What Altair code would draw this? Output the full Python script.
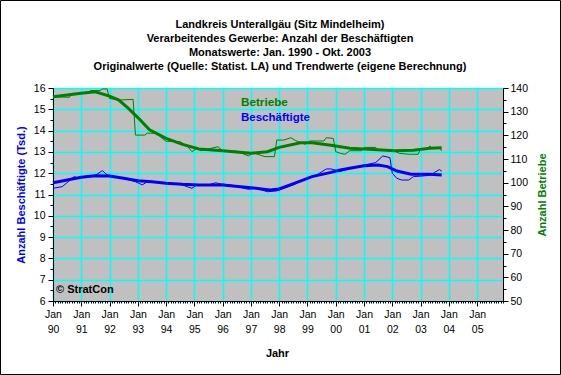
import altair as alt
import pandas as pd

# ---------------- data ----------------
besch_orig_dates = ["1990-01", "1990-05", "1990-10", "1990-12", "1991-03", "1991-07", "1991-10", "1991-12",
                    "1992-05", "1992-09", "1992-12", "1993-03", "1993-05", "1993-08", "1994-01", "1994-07",
                    "1994-12", "1995-02", "1995-06", "1995-10", "1995-12", "1996-05", "1996-12", "1997-03",
                    "1997-08", "1997-12", "1998-07", "1998-12", "1999-05", "1999-09", "1999-11", "2000-03",
                    "2000-07", "2001-01", "2001-06", "2001-09", "2001-12", "2002-01", "2002-03", "2002-05",
                    "2002-08", "2002-10", "2003-01", "2003-05", "2003-07", "2003-09", "2003-10"]
besch_orig_vals = [11.29, 11.37, 11.84, 11.76, 11.86, 11.90, 12.12, 11.92,
                   11.80, 11.70, 11.60, 11.45, 11.60, 11.58, 11.52, 11.48,
                   11.29, 11.45, 11.42, 11.55, 11.50, 11.44, 11.24, 11.30,
                   11.13, 11.17, 11.45, 11.73, 11.92, 12.20, 12.20, 12.08,
                   12.23, 12.38, 12.50, 12.81, 12.73, 12.00, 11.76, 11.68,
                   11.68, 11.84, 11.86, 11.90, 12.04, 12.17, 12.10]

besch_trend_dates = ["1990-01", "1991-01", "1991-07", "1992-01", "1992-07", "1993-01", "1993-07", "1994-01",
                     "1994-08", "1995-03", "1996-01", "1997-01", "1997-09", "1998-01", "1998-08", "1999-03",
                     "1999-11", "2000-03", "2000-07", "2001-01", "2001-07", "2001-11", "2002-03", "2002-09",
                     "2003-05", "2003-10"]
besch_trend_vals = [11.55, 11.81, 11.88, 11.87, 11.76, 11.65, 11.60, 11.53,
                    11.48, 11.45, 11.45, 11.32, 11.21, 11.26, 11.55, 11.84,
                    12.04, 12.15, 12.23, 12.35, 12.38, 12.31, 12.10, 11.95,
                    11.95, 11.92]

betr_orig_dates = ["1990-01", "1990-08", "1990-09", "1991-04", "1991-05", "1991-09", "1991-10", "1991-12",
                   "1992-01", "1992-05", "1992-11", "1992-12", "1993-04", "1993-05", "1993-09", "1993-11",
                   "1994-01", "1994-07", "1994-10", "1994-12", "1995-02", "1995-04", "1995-11", "1996-01",
                   "1996-07", "1996-12", "1997-02", "1997-07", "1997-11", "1997-12", "1998-03", "1998-06",
                   "1998-08", "1998-12", "1999-02", "1999-08", "1999-09", "1999-12", "2000-01", "2000-03",
                   "2000-05", "2000-07", "2000-12", "2001-01", "2001-06", "2001-07", "2002-01", "2002-04",
                   "2002-08", "2002-12", "2003-01", "2003-04", "2003-05", "2003-06", "2003-09", "2003-10"]
betr_orig_vals = [136.3, 136.1, 137.7, 137.9, 138.9, 138.9, 139.6, 139.6,
                  135.6, 134.9, 135.2, 120.1, 120.1, 120.9, 120.9, 119.0,
                  117.5, 117.3, 115.5, 113.1, 114.5, 113.5, 115.2, 113.5,
                  113.3, 111.3, 112.6, 111.0, 111.0, 118.0, 118.0, 119.0,
                  117.8, 116.2, 117.6, 117.6, 119.0, 118.7, 113.1, 112.4,
                  112.0, 113.5, 113.5, 114.9, 114.9, 113.8, 113.8, 112.4,
                  112.0, 112.0, 114.1, 114.1, 115.5, 114.5, 114.8, 113.4]

betr_trend_dates = ["1990-01", "1991-01", "1991-07", "1992-01", "1992-05", "1992-09", "1993-01", "1993-06",
                    "1994-01", "1994-08", "1995-03", "1996-01", "1997-01", "1997-08", "1998-01", "1998-10",
                    "1999-03", "1999-11", "2000-07", "2001-03", "2002-02", "2002-10", "2003-05", "2003-10"]
betr_trend_vals = [136.3, 137.8, 138.4, 136.6, 134.9, 131.4, 127.5, 122.3,
                   118.7, 116.2, 114.2, 113.5, 112.4, 113.1, 114.9, 116.9,
                   116.9, 115.8, 114.5, 114.1, 113.5, 113.7, 114.5, 114.8]

title_lines = ["Landkreis Unterallgäu (Sitz Mindelheim)",
               "Verarbeitendes Gewerbe: Anzahl der Beschäftigten",
               "Monatswerte: Jan. 1990 - Okt. 2003",
               "Originalwerte (Quelle: Statist. LA) und Trendwerte (eigene Berechnung)"]

left_ticks = [6 + 0.5 * i for i in range(21)]
right_ticks = [50 + 5 * i for i in range(19)]

BLUE = "#0000ff"
GREEN = "#008000"
CYAN = "#00ffff"
FONT = "Liberation Sans"


def frame(dates, vals):
    return pd.DataFrame({"monat": [d + "-01" for d in dates], "wert": vals})


x_enc = alt.X(
    "monat:T",
    scale=alt.Scale(type="utc",
                    domain=[alt.DateTime(year=1990, month=1, date=1, utc=True),
                            alt.DateTime(year=2005, month=12, date=1, utc=True)]),
    axis=alt.Axis(
        title="Jahr",
        tickCount=alt.TimeIntervalStep(interval="month", step=1),
        labelExpr="utcmonth(datum.value) == 0 ? ['Jan', utcFormat(datum.value, '%y')] : ''",
        labelOverlap=False,
        labelFlush=False,
        labelPadding=3,
        labelLineHeight=15,
        tickSize={"expr": "utcmonth(datum.value) == 0 ? 5 : 2"},
        grid=True,
        gridColor=CYAN,
        gridWidth=1.5,
        gridOpacity={"expr": "utcmonth(datum.value) == 0 ? 1 : 0"},
        titleX=224,
        titleY=52,
        titleAlign="center",
        titleBaseline="middle",
    ),
)

y_left = alt.Y(
    "wert:Q",
    scale=alt.Scale(domain=[6, 16], nice=False, zero=False),
    axis=alt.Axis(
        title="Anzahl Beschäftigte (Tsd.)",
        titleColor=BLUE,
        values=left_ticks,
        labelExpr="datum.value % 1 == 0 ? format(datum.value, 'd') : ''",
        tickSize={"expr": "datum.value % 1 == 0 ? 5 : 3"},
        labelPadding=3,
        grid=True,
        gridColor=CYAN,
        gridWidth=1.5,
        gridOpacity={"expr": "datum.value % 1 == 0 ? 1 : 0"},
        titleX=-32,
        titleY=106.5,
        titleAngle=-90,
        titleAlign="center",
        titleBaseline="middle",
    ),
)

y_right = alt.Y(
    "wert:Q",
    scale=alt.Scale(domain=[50, 140], nice=False, zero=False),
    axis=alt.Axis(
        orient="right",
        title="Anzahl Betriebe",
        titleColor=GREEN,
        values=right_ticks,
        labelExpr="datum.value % 10 == 0 ? format(datum.value, 'd') : ''",
        tickSize={"expr": "datum.value % 10 == 0 ? 5 : 3"},
        labelPadding=2,
        grid=False,
        titleX=39,
        titleY=106.5,
        titleAngle=-90,
        titleAlign="center",
        titleBaseline="middle",
    ),
)

blue_trend = alt.Chart(frame(besch_trend_dates, besch_trend_vals)).mark_line(
    color=BLUE, strokeWidth=3).encode(x=x_enc, y=y_left)
blue_orig = alt.Chart(frame(besch_orig_dates, besch_orig_vals)).mark_line(
    color=BLUE, strokeWidth=1).encode(x=x_enc, y=y_left)
green_trend = alt.Chart(frame(betr_trend_dates, betr_trend_vals)).mark_line(
    color=GREEN, strokeWidth=3).encode(x=x_enc, y=y_right)
green_orig = alt.Chart(frame(betr_orig_dates, betr_orig_vals)).mark_line(
    color=GREEN, strokeWidth=1).encode(x=x_enc, y=y_right)

blue = alt.layer(blue_trend, blue_orig)
green = alt.layer(green_trend, green_orig)

one = alt.Data(values=[{}])
title_txt = alt.Chart(one).mark_text(text=title_lines, color="black", fontWeight="bold", fontSize=11,
                                     lineHeight=14.1, align="center", baseline="middle", font=FONT).encode(
    x=alt.value(227), y=alt.value(-63.5))
lbl_betr = alt.Chart(one).mark_text(text="Betriebe", color=GREEN, fontWeight="bold", fontSize=11.7,
                                    align="left", baseline="middle", font=FONT).encode(
    x=alt.value(188), y=alt.value(14))
lbl_besch = alt.Chart(one).mark_text(text="Beschäftigte", color=BLUE, fontWeight="bold", fontSize=11.5,
                                     align="left", baseline="middle", font=FONT).encode(
    x=alt.value(188), y=alt.value(30))
copyright_txt = alt.Chart(one).mark_text(text="© StratCon", color="black", fontWeight="bold", fontSize=11,
                                         align="left", baseline="middle", font=FONT).encode(
    x=alt.value(3), y=alt.value(201.5))
border = alt.Chart(one).mark_rect(fill=None, stroke="black", strokeWidth=1, clip=False).encode(
    x=alt.value(-52.5), x2=alt.value(507.5), y=alt.value(-87.5), y2=alt.value(286.5))

chart = alt.layer(blue, green, title_txt, lbl_betr, lbl_besch, copyright_txt, border).resolve_scale(
    y="independent"
).properties(
    width=450,
    height=213,
    autosize=alt.AutoSizeParams(type="none"),
    padding={"left": 53, "top": 88, "right": 58, "bottom": 74},
    background="white",
).configure_view(
    fill="#c0c0c0", stroke="#808080", strokeWidth=1
).configure_axis(
    labelFont=FONT, titleFont=FONT, labelFontSize=10.5, titleFontSize=11, titleFontWeight="bold",
    labelColor="black", titleColor="black", tickColor="black", domainColor="black",
    domainWidth=1, tickWidth=1
)

chart.save("out.html", embed_options={"renderer": "svg", "actions": False})
